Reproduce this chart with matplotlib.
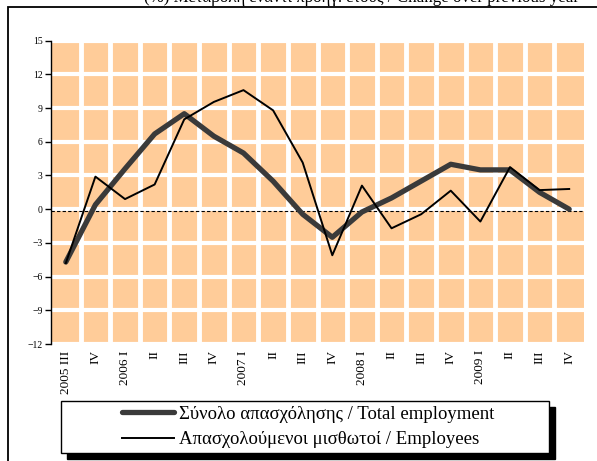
import numpy as np
import matplotlib.pyplot as plt
from matplotlib.patches import Rectangle

plt.rcParams['font.family'] = ['Liberation Serif', 'DejaVu Serif']

# quarters
quarters = ['2005 III', 'IV', '2006 I', 'II', 'III', 'IV', '2007 I', 'II', 'III',
            'IV', '2008 I', 'II', 'III', 'IV', '2009 I', 'II', 'III', 'IV']

# annual % change
total_employment = [-4.7, 0.4, 3.6, 6.7, 8.5, 6.5, 5.0, 2.5, -0.45,
                    -2.5, -0.25, 1.0, 2.5, 4.0, 3.5, 3.5, 1.5, 0.0]
employees = [-4.8, 2.9, 0.9, 2.2, 8.0, 9.55, 10.6, 8.8, 4.15,
             -4.1, 2.1, -1.7, -0.45, 1.65, -1.1, 3.75, 1.7, 1.8]

ref_level = -0.15

x = np.arange(len(quarters))

fig = plt.figure(figsize=(5.97, 4.61), dpi=100)
ax = fig.add_axes([51/597, 1-344/461, 533/597, 303.3/461])

ax.set_facecolor('#FFCC99')
ax.set_xlim(-0.5, len(quarters) - 0.5)
ax.set_ylim(-12, 15)
ax.set_yticks(np.arange(-12, 16, 3))
ax.set_xticks(x)
ax.set_xticks(x[:-1] + 0.5, minor=True)
ax.set_xticklabels(quarters, rotation=90, fontsize=9.5)
ax.tick_params(axis='x', which='both', length=0, pad=4.5)
ax.tick_params(axis='y', labelsize=7, length=4, width=1, pad=2)

# white grid -> tiles
ax.grid(False)
ax.yaxis.grid(True, color='white', linewidth=3)
ax.xaxis.grid(True, which='minor', color='white', linewidth=3.5)
ax.set_axisbelow(True)

for s in ['top', 'right', 'bottom']:
    ax.spines[s].set_visible(False)
ax.spines['left'].set_linewidth(1)

ax.axhline(ref_level, color='black', linestyle=(0, (3, 2)), linewidth=0.8, zorder=2)

ax.plot(x, total_employment, color='#3a3a3a', linewidth=3.8, solid_capstyle='round',
        solid_joinstyle='round', label='Σύνολο απασχόλησης / Total employment', zorder=3)
ax.plot(x, employees, color='black', linewidth=1.4,
        label='Απασχολούμενοι μισθωτοί / Employees', zorder=4)

# title (partly cut off at the top)
fig.text(362/597, 1-2.5/461, '(%) Μεταβολή έναντι προηγ. έτους / Change over previous year',
         ha='center', va='baseline', fontsize=12.2)

# outer frame
fig.patches.append(Rectangle((8/597, -0.05), 1.1, 1.05-7.5/461, transform=fig.transFigure,
                             fill=False, edgecolor='black', linewidth=1.3))

# legend box with shadow
lx0, lx1, ly0, ly1 = 61/597, 549/597, 1-453/461, 1-400.7/461
fig.patches.append(Rectangle((lx0 + 6/597, ly0 - 6/461), lx1-lx0, ly1-ly0,
                             transform=fig.transFigure, facecolor='black', edgecolor='black', zorder=5))
fig.patches.append(Rectangle((lx0, ly0), lx1-lx0, ly1-ly0, transform=fig.transFigure,
                             facecolor='white', edgecolor='black', linewidth=1, zorder=6))
leg = fig.legend(loc='center', bbox_to_anchor=((lx0+lx1)/2 + 3/597, (ly0+ly1)/2),
                 frameon=False, fontsize=13.5, handlelength=2.8, handletextpad=0.25,
                 labelspacing=0.45, borderpad=0)
leg.set_zorder(7)

plt.savefig('out.png', dpi=100)
